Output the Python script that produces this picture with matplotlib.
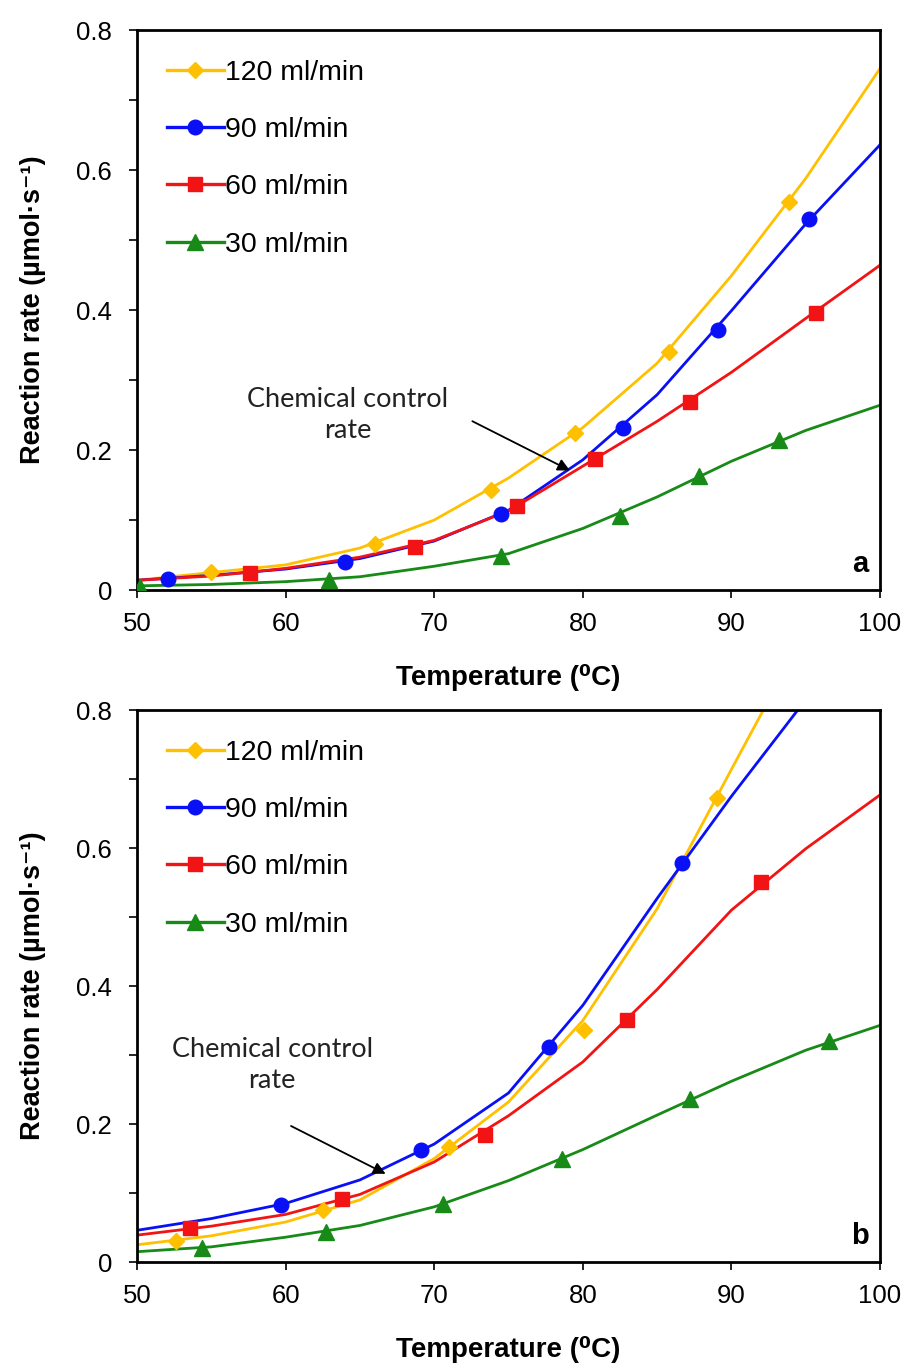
import matplotlib
matplotlib.use('Agg')
import matplotlib.pyplot as plt

plt.rcParams['font.family'] = ['Liberation Sans', 'DejaVu Sans']

# curve samples (temperature, rate)
t_curve = [50, 55, 60, 65, 70, 75, 80, 85, 90, 95, 100]

a_curve = {
    '120 ml/min': [0.014, 0.025, 0.036, 0.060, 0.100, 0.160, 0.232, 0.324, 0.449, 0.588, 0.745],
    '90 ml/min': [0.014, 0.021, 0.030, 0.045, 0.070, 0.114, 0.186, 0.279, 0.399, 0.523, 0.636],
    '60 ml/min': [0.014, 0.020, 0.031, 0.047, 0.071, 0.113, 0.177, 0.241, 0.311, 0.388, 0.464],
    '30 ml/min': [0.006, 0.008, 0.012, 0.019, 0.034, 0.052, 0.088, 0.133, 0.184, 0.228, 0.264],
}
b_curve = {
    '120 ml/min': [0.025, 0.038, 0.058, 0.090, 0.150, 0.232, 0.350, 0.512, 0.714, 0.914, 1.100],
    '90 ml/min': [0.046, 0.063, 0.085, 0.119, 0.171, 0.245, 0.372, 0.527, 0.675, 0.815, 0.950],
    '60 ml/min': [0.039, 0.052, 0.069, 0.098, 0.145, 0.212, 0.290, 0.395, 0.510, 0.599, 0.677],
    '30 ml/min': [0.015, 0.022, 0.036, 0.053, 0.080, 0.118, 0.163, 0.213, 0.262, 0.307, 0.343],
}

# measured points
a_pts = {
    '120 ml/min': ([55.0, 66.0, 73.8, 79.5, 85.8, 93.9], [0.026, 0.066, 0.143, 0.225, 0.340, 0.555]),
    '90 ml/min': ([52.1, 64.0, 74.5, 82.7, 89.1, 95.2], [0.016, 0.040, 0.109, 0.232, 0.372, 0.530]),
    '60 ml/min': ([57.6, 68.7, 75.6, 80.8, 87.2, 95.7], [0.024, 0.062, 0.120, 0.187, 0.269, 0.396]),
    '30 ml/min': ([50.2, 62.9, 74.5, 82.5, 87.8, 93.2], [0.004, 0.014, 0.049, 0.106, 0.163, 0.214]),
}
b_pts = {
    '120 ml/min': ([52.6, 62.5, 71.0, 80.1, 89.0], [0.031, 0.075, 0.167, 0.337, 0.673]),
    '90 ml/min': ([59.7, 69.1, 77.7, 86.7], [0.082, 0.162, 0.311, 0.578]),
    '60 ml/min': ([53.6, 63.8, 73.4, 83.0, 92.0], [0.049, 0.092, 0.184, 0.351, 0.551]),
    '30 ml/min': ([54.4, 62.7, 70.6, 78.6, 87.2, 96.6], [0.020, 0.044, 0.084, 0.150, 0.236, 0.321]),
}

colors = {'120 ml/min': '#FFC000', '90 ml/min': '#0A10F5',
          '60 ml/min': '#F21414', '30 ml/min': '#178A17'}
markers = {'120 ml/min': ('D', 8), '90 ml/min': ('o', 10.5),
           '60 ml/min': ('s', 10.5), '30 ml/min': ('^', 11.5)}

fig = plt.figure(figsize=(9.06, 13.70), dpi=100)
ax_a = fig.add_axes([0.1512, 0.5693, 0.8201, 0.4088])
ax_b = fig.add_axes([0.1512, 0.0788, 0.8201, 0.4029])


def draw(ax, curves, pts, letter, text_xy, arrow_tail, arrow_head):
    for name in curves:
        c = colors[name]
        m, ms = markers[name]
        ax.plot(t_curve, curves[name], color=c, lw=2.0, zorder=2,
                solid_joinstyle='round')
        ax.plot(pts[name][0], pts[name][1], ls='none', marker=m, ms=ms,
                color=c, zorder=3)
        ax.plot([], [], color=c, lw=2.4, marker=m, ms=ms, label=name)
    ax.set_xlim(50, 100)
    ax.set_ylim(0, 0.8)
    ax.set_xticks([50, 60, 70, 80, 90, 100])
    ax.set_yticks([0, 0.2, 0.4, 0.6, 0.8])
    ax.set_yticklabels(['0', '0.2', '0.4', '0.6', '0.8'])
    ax.set_yticks([0.1, 0.3, 0.5, 0.7], minor=True)
    ax.tick_params(axis='both', which='both', direction='out', length=6,
                   width=1.2, labelsize=18.5, pad=12)
    ax.tick_params(axis='x', pad=10)
    for s in ax.spines.values():
        s.set_linewidth(2)
    ax.set_xlabel('Temperature (\u2070C)', fontsize=20, fontweight='bold',
                  labelpad=20)
    ax.set_ylabel('Reaction rate (\u00b5mol\u00b7s\u207b\u00b9)', fontsize=19.5,
                  fontweight='bold', labelpad=22)
    ax.legend(loc='upper left', frameon=False, fontsize=20.5, labelspacing=1.1,
              handlelength=2.0, handletextpad=0.05, borderaxespad=0.5,
              borderpad=0.54)
    ax.text(0.985, 0.022, letter, transform=ax.transAxes, ha='right',
            va='bottom', fontsize=21, fontweight='bold')
    ax.text(text_xy[0], text_xy[1], 'Chemical control\nrate', ha='center',
            va='center', fontsize=19.5, family=['Lato', 'DejaVu Sans'],
            linespacing=1.3, color='#222222')
    ax.annotate('', xy=arrow_head, xytext=arrow_tail,
                arrowprops=dict(arrowstyle='-|>', color='black', lw=1.3,
                                mutation_scale=18))


draw(ax_a, a_curve, a_pts, 'a', (64.2, 0.25), (72.4, 0.243), (79.3, 0.169))
draw(ax_b, b_curve, b_pts, 'b', (59.1, 0.285), (60.2, 0.199), (66.9, 0.126))

fig.savefig('out.png', dpi=100)
